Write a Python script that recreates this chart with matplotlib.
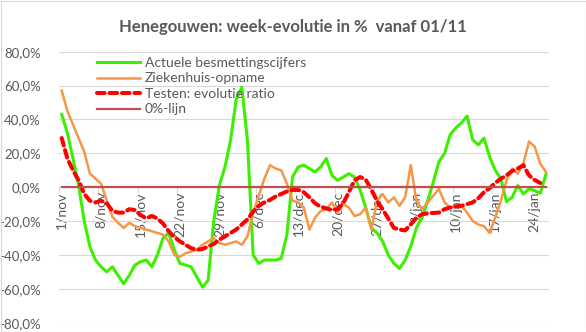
import matplotlib
matplotlib.use("Agg")
import matplotlib.pyplot as plt
import numpy as np
from matplotlib.patches import Rectangle
from matplotlib.ticker import FixedLocator, FuncFormatter

plt.rcParams["font.family"] = ["Lato", "DejaVu Sans"]

title = "Henegouwen: week-evolutie in %  vanaf 01/11"

# daily categories 1/nov .. 26/jan, one label per week
tick_labels = ["1/nov", "8/nov", "15/nov", "22/nov", "29/nov", "6/dec", "13/dec",
               "20/dec", "27/dec", "3/jan", "10/jan", "17/jan", "24/jan"]
n_days = 87

series_names = ["Actuele besmettingscijfers", "Ziekenhuis-opname",
                "Testen: evolutie ratio", "0%-lijn"]

besmettingen = [43, 32, 17, 1, -20, -35, -43, -47, -50, -47,
                -52, -57, -52, -46, -44, -43, -47, -40, -30, -27,
                -37, -45, -46, -47, -53, -59, -55, -20, 1, 12,
                28, 52, 59, 27, -40, -45, -43, -43, -43, -42,
                -28, 6, 12, 13, 11, 9, 12, 17, 7, 4,
                6, 8, 6, -1.6, -12, -24, -27, -32, -40, -45,
                -48, -43, -35, -24, -18, -8, 3, 15, 20, 31,
                35, 38, 42, 28, 25, 29, 18, 10, 5, -8.5,
                -6, 1, -4, -1, -2, -3.6, 7.5]

ziekenhuis = [57, 45, 37, 29, 21, 8, 5, 2, -8, -17.5,
              -21, -24, -21, -23, -24, -25, -26, -27, -28, -32,
              -40, -41, -39, -38, -37, -34, -32, -30, -33, -34,
              -33, -32, -34, -29, -15, -5, 5, 13, 11, 10,
              2, -8, -9, -12, -25, -18, -14, -13, -9, -15,
              -10, -12, -17, -16, -12, -25, -8, -4, -9, -6,
              -11, -6, 13, -8, -13, -9, -5, -1, -9, -12,
              -11, -11, -15, -20, -22, -23, -27, -18, -8, 4,
              11, 8, 14, 27, 24, 14, 9]

testen = [29, 17, 10, 4, -4, -8, -9, -8, -9.5, -14,
          -15, -15, -13, -13.5, -16.4, -18.4, -17, -18.5, -21.5, -26,
          -29.5, -32, -34, -36, -37, -36.5, -35, -33.5, -31, -29,
          -27, -25, -22, -19, -14.5, -11, -9, -7.5, -5.5, -4,
          -2.5, -1.6, -1.6, -3, -6, -9.5, -11.5, -12.5, -13.5, -13,
          -9.5, -3, 4, 6, 4.5, -1.5, -8, -13, -18.5, -24,
          -25, -25.5, -22, -18, -16, -15.4, -15.2, -15, -13, -12,
          -11.5, -11, -10, -9, -6.5, -3, -0.6, 2.5, 5, 7,
          9.5, 11, 13, 7, 4.3, 2.5, np.nan]

nul_lijn = [0] * n_days

TEXT = "#595959"
GRID = "#D9D9D9"

fig = plt.figure(figsize=(5.86, 3.32), dpi=100)
fig.patches.append(Rectangle((0.5 / 586, 0.5 / 332), 1 - 1 / 586, 1 - 1 / 332,
                             transform=fig.transFigure, fill=False,
                             edgecolor=GRID, lw=0.8))
ax = fig.add_axes([58.9 / 586, (332 - 322.7) / 332, 489.8 / 586, (322.7 - 51.7) / 332])

x = np.arange(n_days)
ax.plot(x, besmettingen, color="#3CF000", lw=2.2, label=series_names[0],
        solid_joinstyle="round", zorder=3)
ax.plot(x, ziekenhuis, color="#F79646", lw=1.8, label=series_names[1],
        solid_joinstyle="round", zorder=4)
ax.plot(x, testen, color="#FF0000", lw=2.9, ls=(0, (1.9, 1.2)), label=series_names[2],
        dash_capstyle="round", zorder=5)
ax.plot(x, nul_lijn, color="#C0504D", lw=1.6, label=series_names[3], zorder=6)

ax.set_xlim(-0.5, n_days - 0.5)
ax.set_ylim(-80, 80)

# y axis
ax.yaxis.set_major_locator(FixedLocator(np.arange(-80, 81, 20)))
ax.yaxis.set_major_formatter(FuncFormatter(lambda v, p: f"{v:.1f}%".replace(".", ",")))
ax.tick_params(axis="y", length=0, pad=13, labelsize=9.5, labelcolor=TEXT)
ax.grid(axis="y", color=GRID, lw=0.8, zorder=0)
ax.set_axisbelow(True)

# x axis through zero with weekly tick marks between categories
for s in ["left", "right", "top"]:
    ax.spines[s].set_visible(False)
ax.spines["bottom"].set_position(("data", 0))
ax.spines["bottom"].set_color(GRID)
week_pos = np.arange(0, n_days, 7)
ax.xaxis.set_major_locator(FixedLocator(week_pos - 0.5))
ax.xaxis.set_major_formatter(FuncFormatter(lambda v, p: ""))
ax.xaxis.set_minor_locator(FixedLocator(week_pos))
ax.xaxis.set_minor_formatter(FuncFormatter(
    lambda v, p: tick_labels[int(round(v)) // 7] if int(round(v)) // 7 < len(tick_labels) else ""))
ax.tick_params(axis="x", which="major", length=4, color=GRID, direction="out")
ax.tick_params(axis="x", which="minor", length=0, pad=3, labelsize=10,
               labelcolor=TEXT, labelrotation=90)
for lab in ax.xaxis.get_minorticklabels():
    lab.set_verticalalignment("top")

fig.text(0.5, 1 - 27 / 332, title, ha="center", va="center", fontsize=12,
         fontweight="bold", color=TEXT)

leg = ax.legend(loc="upper left", bbox_to_anchor=(97 / 586, 1 - 57 / 332),
                bbox_transform=fig.transFigure, frameon=False, fontsize=10,
                handlelength=3.1, handletextpad=0.35, labelspacing=0.25,
                borderaxespad=0, borderpad=0)
for t in leg.get_texts():
    t.set_color(TEXT)

fig.savefig("out.png", dpi=100)
